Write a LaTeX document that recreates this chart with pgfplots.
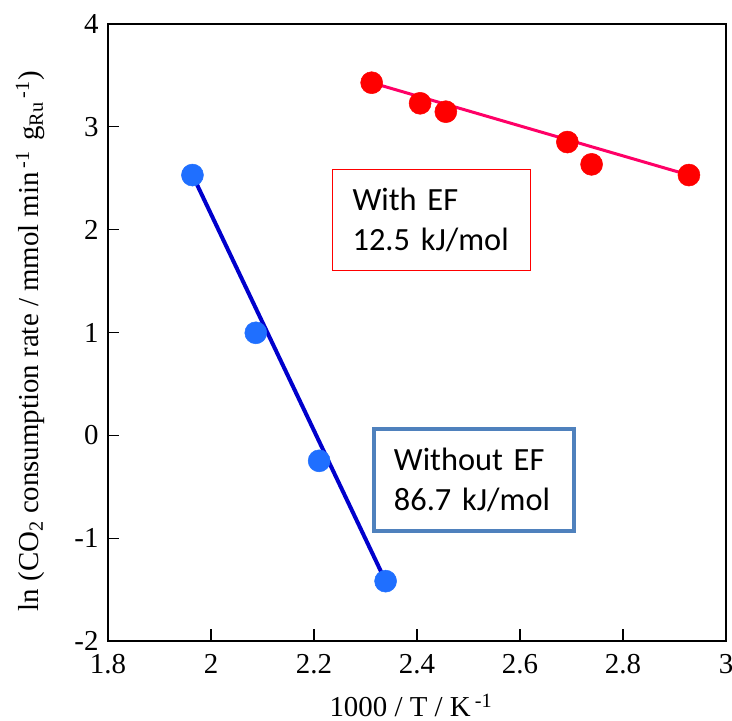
\documentclass[border=0pt]{standalone}
\usepackage{fontspec}
\setmainfont{Liberation Serif}
\newfontfamily\calibri{Carlito}
\usepackage{pgfplots}
\usepackage{pgfplotstable}
\pgfplotsset{compat=1.18}
\definecolor{redpt}{RGB}{255,0,0}
\definecolor{redline}{RGB}{255,0,102}
\definecolor{bluept}{RGB}{31,111,255}
\definecolor{blueline}{RGB}{0,0,204}
\definecolor{boxblue}{RGB}{79,129,189}

\pgfplotstableread{
x y
2.312 3.429
2.406 3.229
2.456 3.147
2.692 2.852
2.739 2.635
2.928 2.531
}\withEF

\pgfplotstableread{
x y
1.964 2.531
2.087 0.997
2.210 -0.248
2.339 -1.418
}\withoutEF

\begin{document}
\begin{tikzpicture}
\useasboundingbox (-108bp,-80bp) rectangle (624bp,641bp);
\begin{axis}[
 at={(0,0)}, anchor=south west,
 scale only axis, width=618bp, height=617bp,
 xmin=1.8, xmax=3, ymin=-2, ymax=4,
 xtick={1.8,2,2.2,2.4,2.6,2.8,3}, xticklabels={1.8,2,2.2,2.4,2.6,2.8,3},
 ytick={-2,-1,0,1,2,3,4}, yticklabels={-2,-1,0,1,2,3,4},
 tick align=inside, xtick pos=bottom, ytick pos=left,
 major tick length=11.5bp,
 tick style={line width=1.2bp, black},
 axis line style={line width=1.5bp},
 ticklabel style={font=\rmfamily\fontsize{29}{29}\selectfont},
 xticklabel style={anchor=base, yshift=-32bp},
 yticklabel style={anchor=east, xshift=-6bp},
 xlabel={1000 / T / K\hspace{4bp}\textsuperscript{-1}},
 ylabel={ln (CO\textsubscript{2} consumption rate / mmol min\hspace{4bp}\textsuperscript{-1}\hspace{3bp} g\textsubscript{Ru}\hspace{4bp}\textsuperscript{-1})},
 every axis x label/.style={at={(rel axis cs:0.49,0)}, anchor=base, yshift=-75bp, font=\rmfamily\fontsize{29}{29}\selectfont},
 every axis y label/.style={at={(rel axis cs:0,0.486)}, xshift=-78bp, rotate=90, anchor=center, font=\rmfamily\fontsize{29}{29}\selectfont},
 clip=false,
]
\addplot[redline, line width=3bp] coordinates {(2.312,3.429) (2.928,2.531)};
\addplot[blueline, line width=4bp] coordinates {(1.964,2.531) (2.339,-1.418)};
\addplot[only marks, mark=*, mark size=11bp, mark options={fill=redpt, draw=redpt, line width=0.5bp}] table {\withEF};
\addplot[only marks, mark=*, mark size=11bp, mark options={fill=bluept, draw=bluept, line width=0.5bp}] table {\withoutEF};
\node[draw=red, line width=1.2bp, anchor=north west, inner xsep=20bp, inner ysep=0pt, text width=158bp, minimum height=101bp, align=left, font=\calibri\fontsize{32.5}{40}\selectfont] at (axis cs:2.235,2.589) {\mbox{With EF}\\\mbox{12.5 kJ/mol}};
\node[draw=boxblue, line width=3.5bp, anchor=north west, inner xsep=20bp, inner ysep=0pt, text width=160bp, minimum height=102bp, align=left, font=\calibri\fontsize{32.5}{40}\selectfont] at (axis cs:2.313,0.080) {\mbox{Without EF}\\\mbox{86.7 kJ/mol}};
\end{axis}
\end{tikzpicture}
\end{document}
